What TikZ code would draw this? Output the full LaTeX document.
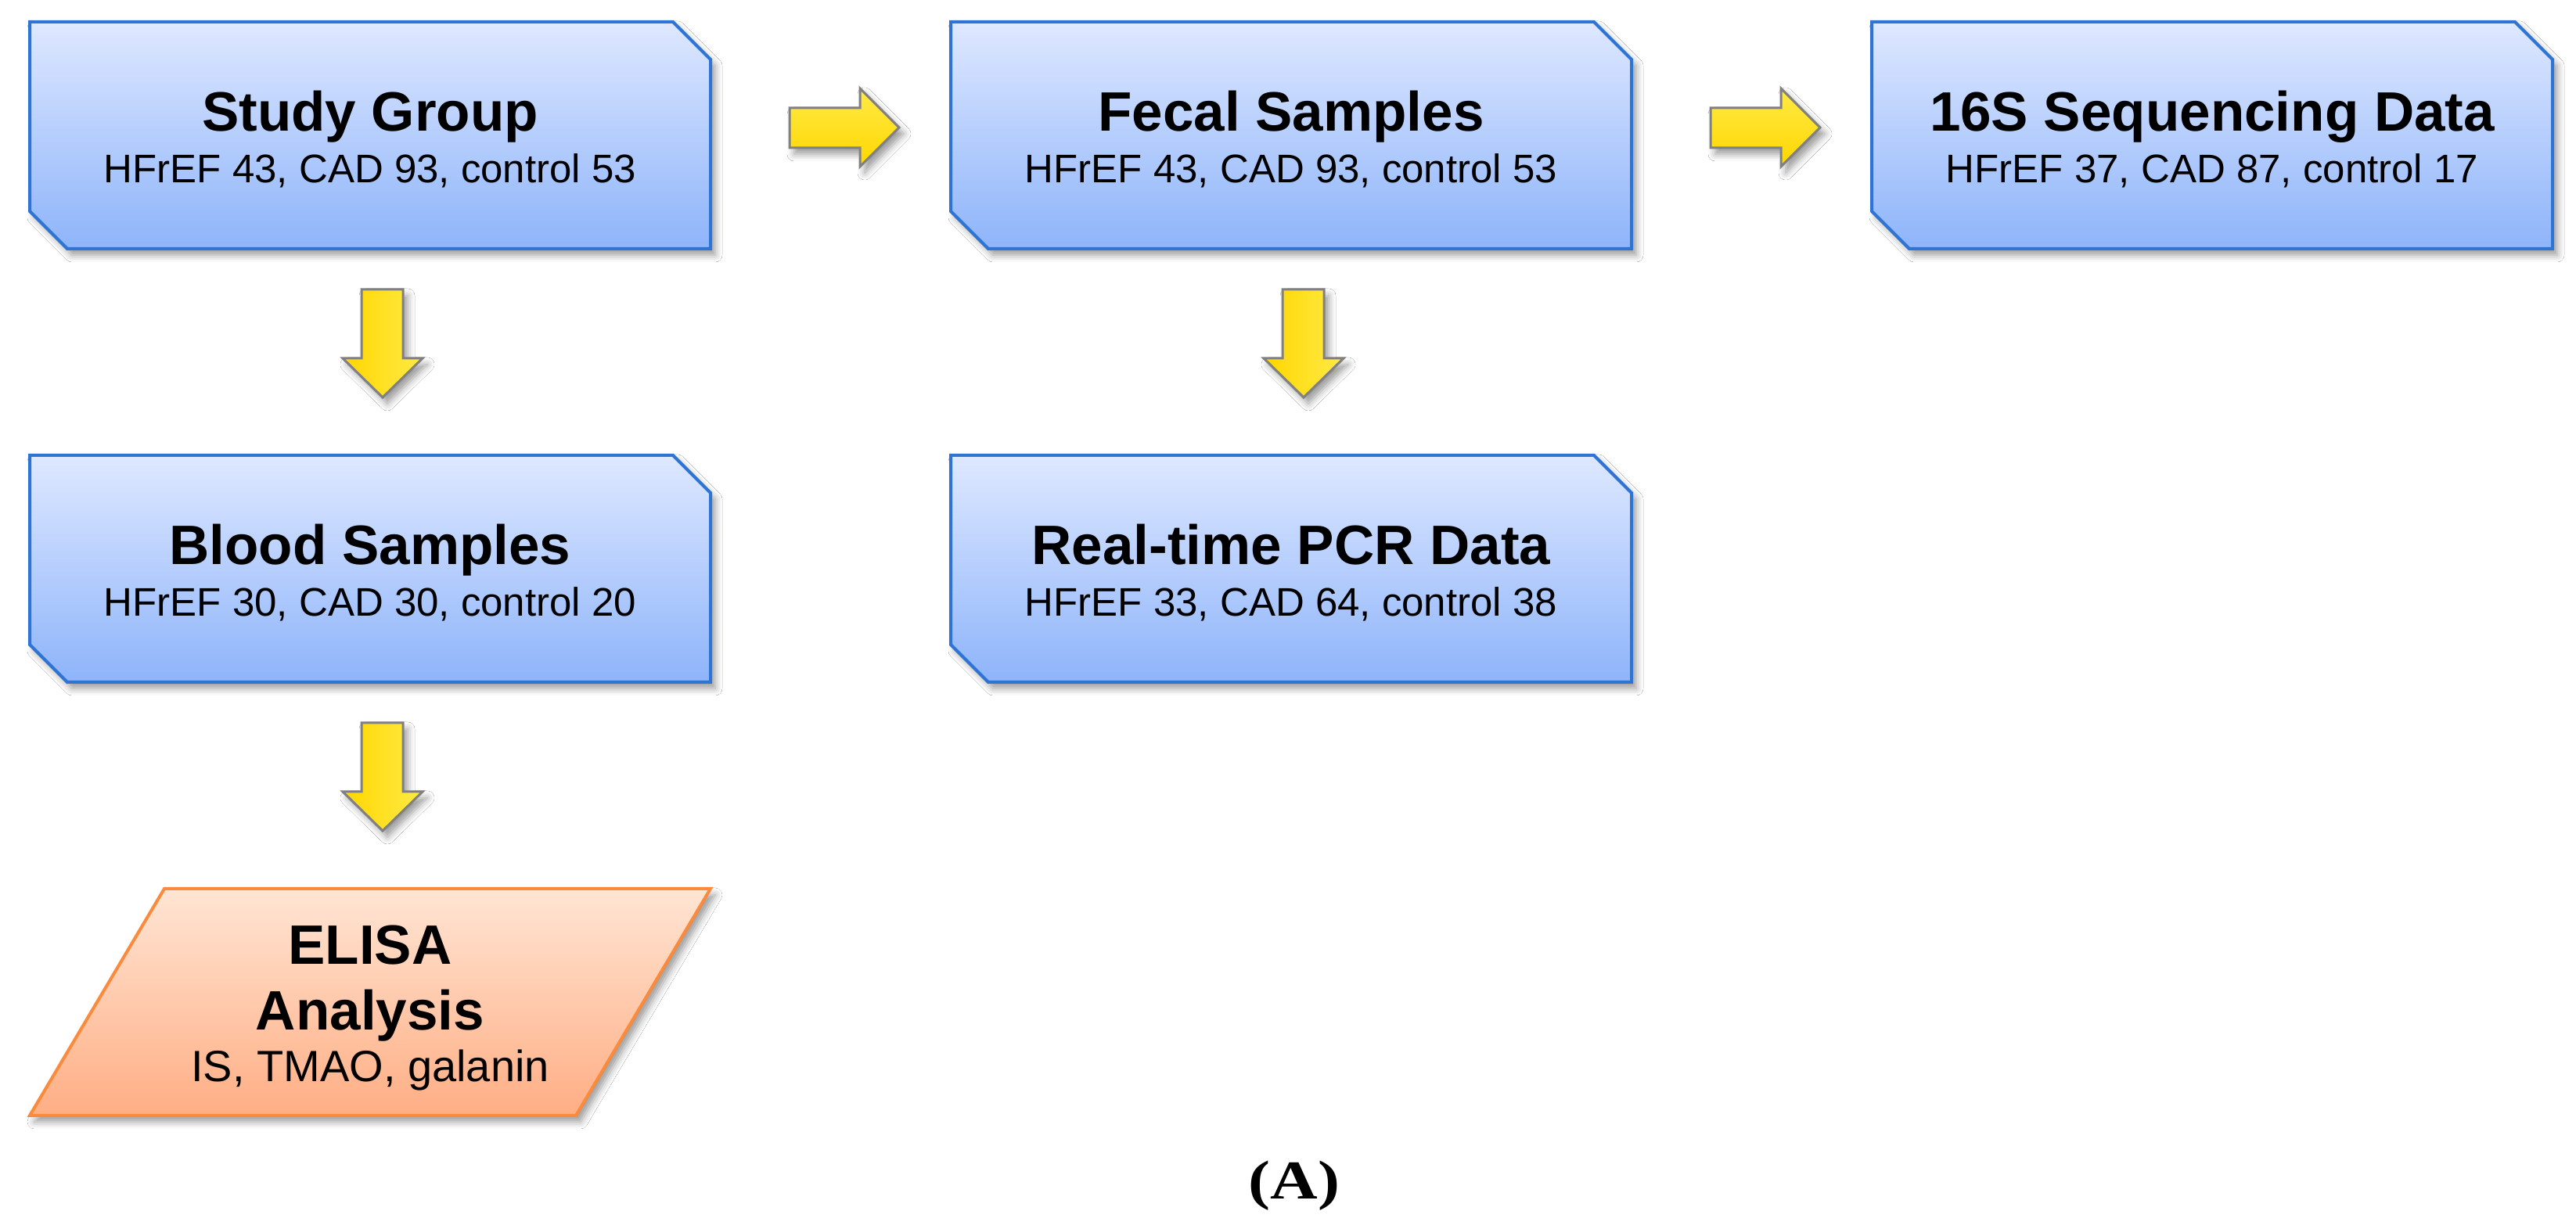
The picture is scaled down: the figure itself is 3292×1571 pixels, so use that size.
\documentclass[tikz,border=0pt]{standalone}
\usepackage{fontspec}
\usepackage{graphicx}
\setmainfont{Liberation Sans}
\newfontfamily\capfont{Liberation Serif}
\usetikzlibrary{calc,shadows.blur}
\definecolor{bxtop}{RGB}{222,232,255}
\definecolor{bxbot}{RGB}{142,180,250}
\definecolor{bxedge}{RGB}{46,116,212}
\definecolor{ortop}{RGB}{255,229,212}
\definecolor{orbot}{RGB}{255,174,132}
\definecolor{oredge}{RGB}{250,138,60}
\definecolor{ylA}{RGB}{255,214,0}
\definecolor{ylB}{RGB}{255,234,70}
\definecolor{ygray}{RGB}{128,128,128}
\tikzset{
  boxanchor/.style={rectangle, minimum width=870pt, minimum height=290pt, inner sep=0pt, outer sep=0pt, draw=none},
  myshadow/.style={blur shadow={shadow xshift=6pt, shadow yshift=-8pt, shadow blur radius=9pt, shadow opacity=40}},
  bluebox/.style={draw=bxedge, line width=4pt, top color=bxtop, bottom color=bxbot, line join=miter, myshadow},
  orangebox/.style={draw=oredge, line width=4pt, top color=ortop, bottom color=orbot, line join=miter, myshadow},
  yarrowR/.style={draw=ygray, line width=3pt, top color=ylB, bottom color=ylA, line join=miter, myshadow},
  yarrowD/.style={draw=ygray, line width=3pt, left color=ylA, right color=ylB, line join=miter, myshadow},
  ttl/.style={anchor=base, font=\fontsize{71pt}{85pt}\selectfont\bfseries, inner sep=0pt},
  subt/.style={anchor=base, font=\fontsize{51pt}{61pt}\selectfont, inner sep=0pt},
  subtE/.style={anchor=base, font=\fontsize{56pt}{66pt}\selectfont, inner sep=0pt},
}
\newcommand\cutbox[1]{\path[bluebox] (#1.north west) -- ([xshift=-48pt]#1.north east) -- ([yshift=-48pt]#1.north east) -- (#1.south east) -- ([xshift=48pt]#1.south west) -- ([yshift=48pt]#1.south west) -- cycle;}
\newcommand\rightblock[1]{\begin{scope}[shift={(#1.east)}]\path[yarrowR] (101,35) -- (191,35) -- (191,60) -- (241,10) -- (191,-40) -- (191,-16) -- (101,-16) -- cycle;\end{scope}}
\newcommand\downblock[1]{\begin{scope}[shift={(#1.south)}]\path[yarrowD] (-11,-52) -- (42,-52) -- (42,-140) -- (67,-140) -- (16,-190) -- (-35,-140) -- (-11,-140) -- cycle;\end{scope}}
\begin{document}
\begin{tikzpicture}[x=1pt,y=1pt]
\useasboundingbox (0,0) rectangle (3292,1571);
\fill[white] (0,0) rectangle (3292,1571);
% anchor nodes
\node[boxanchor] (sg) at (473,1398) {};
\node[boxanchor] (fs) at (1650,1398) {};
\node[boxanchor] (sq) at (2827,1398) {};
\node[boxanchor] (bs) at (473,844) {};
\node[boxanchor] (pcr) at (1650,844) {};
\node[boxanchor] (el) at (473,290) {};
% boxes
\cutbox{sg}
\cutbox{fs}
\cutbox{sq}
\cutbox{bs}
\cutbox{pcr}
\path[orangebox] ([xshift=172pt]el.north west) -- (el.north east) -- ([xshift=-172pt]el.south east) -- (el.south west) -- cycle;
% arrows
\rightblock{sg}
\rightblock{fs}
\downblock{sg}
\downblock{fs}
\downblock{bs}
% texts
\node[ttl] (sgT) at ($(sg.center)+(0,5)$) {Study Group};
\node[subt] (sgS) at ($(sg.center)+(0,-61)$) {HFrEF 43, CAD 93, control 53};
\node[ttl] (fsT) at ($(fs.center)+(0,5)$) {Fecal Samples};
\node[subt] (fsS) at ($(fs.center)+(0,-61)$) {HFrEF 43, CAD 93, control 53};
\node[ttl] (sqT) at ($(sq.center)+(0,5)$) {16S Sequencing Data};
\node[subt] (sqS) at ($(sq.center)+(0,-61)$) {HFrEF 37, CAD 87, control 17};
\node[ttl] (bsT) at ($(bs.center)+(0,5)$) {Blood Samples};
\node[subt] (bsS) at ($(bs.center)+(0,-61)$) {HFrEF 30, CAD 30, control 20};
\node[ttl] (pcrT) at ($(pcr.center)+(0,5)$) {Real-time PCR Data};
\node[subt] (pcrS) at ($(pcr.center)+(0,-61)$) {HFrEF 33, CAD 64, control 38};
\node[ttl] (elT1) at ($(el.center)+(0,48)$) {ELISA};
\node[ttl] (elT2) at ($(el.center)+(0,-36)$) {Analysis};
\node[subtE] (elS) at ($(el.center)+(0,-102)$) {IS, TMAO, galanin};
% caption
\node[anchor=base, inner sep=0pt] (cap) at (1654,38) {\scalebox{1.2}[1]{\capfont\fontsize{70pt}{80pt}\selectfont\bfseries (A)}};
\end{tikzpicture}
\end{document}
